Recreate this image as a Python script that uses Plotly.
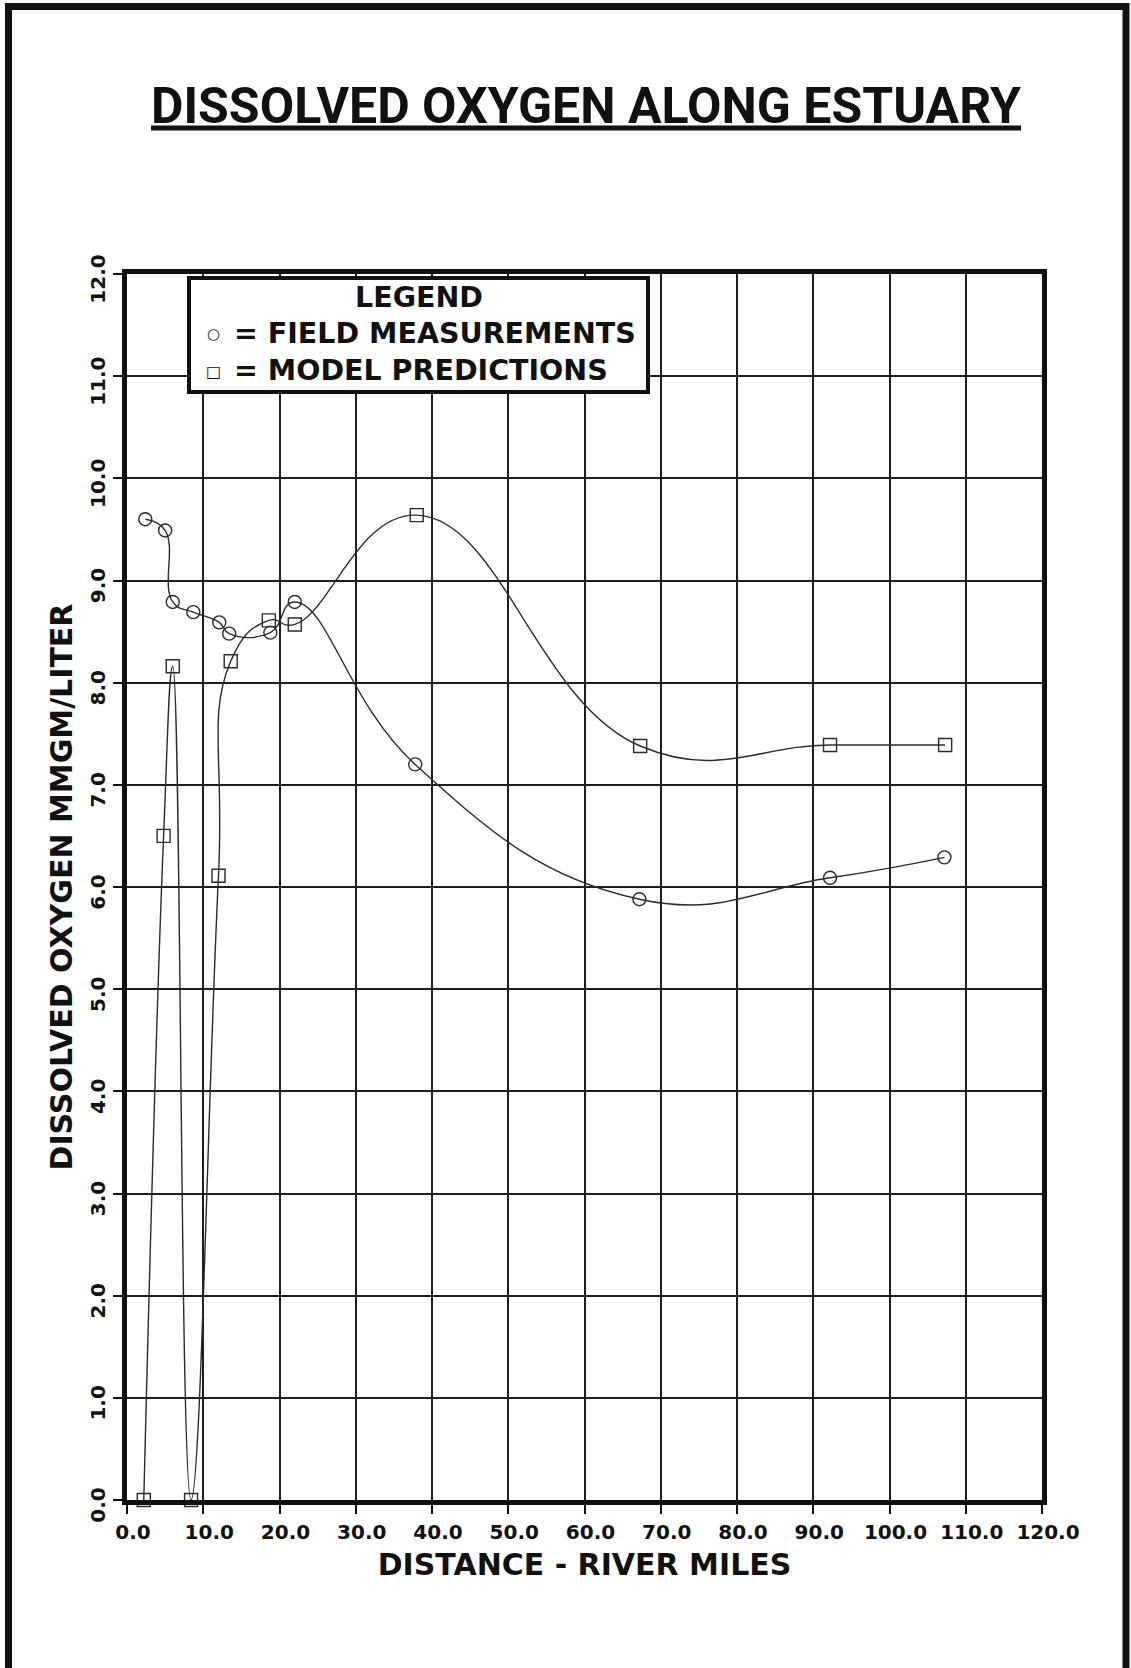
import plotly.graph_objects as go

# River-mile stations and dissolved oxygen (mg/l)
field_miles = [2.4, 5.0, 6.0, 8.7, 12.1, 13.4, 18.8, 22.0, 37.8, 67.2, 92.2, 107.2]
field_do = [9.60, 9.49, 8.79, 8.69, 8.59, 8.48, 8.49, 8.79, 7.20, 5.88, 6.09, 6.29]

model_miles = [2.2, 4.8, 6.0, 8.4, 12.0, 13.6, 18.6, 22.0, 38.0, 67.3, 92.2, 107.3]
model_do = [0.0, 6.50, 8.16, 0.0, 6.11, 8.21, 8.61, 8.57, 9.64, 7.38, 7.39, 7.39]

x_ticks = [0, 10, 20, 30, 40, 50, 60, 70, 80, 90, 100, 110, 120]
y_ticks = [0, 1, 2, 3, 4, 5, 6, 7, 8, 9, 10, 11, 12]

field_name = "FIELD MEASUREMENTS"
model_name = "MODEL PREDICTIONS"

W, H = 1131, 1668
L, R, T, B = 127, 89, 274, 168
PW, PH = W - L - R, H - T - B


def px(x):
    return (x - L) / PW


def py(y):
    return (H - B - y) / PH


INK = "#2b2b2b"
BOLD = "DejaVu Sans"

fig = go.Figure()
fig.add_trace(go.Scatter(
    x=field_miles, y=field_do, mode="lines+markers", name=field_name,
    line=dict(color=INK, width=1.4, shape="spline", smoothing=1.3),
    marker=dict(symbol="circle-open", size=13, color=INK, line=dict(width=1.4, color=INK)),
    cliponaxis=False, showlegend=False,
))
fig.add_trace(go.Scatter(
    x=model_miles, y=model_do, mode="lines+markers", name=model_name,
    line=dict(color=INK, width=1.4, shape="spline", smoothing=1.3),
    marker=dict(symbol="square-open", size=13, color=INK, line=dict(width=1.4, color=INK)),
    cliponaxis=False, showlegend=False,
))

axis_common = dict(
    showgrid=True, gridcolor="#1e1e1e", gridwidth=2,
    showline=True, linecolor="#111111", linewidth=5, mirror=True,
    ticks="outside", ticklen=9, tickwidth=2, tickcolor="#111111",
    zeroline=False, tickformat=".1f",
    tickfont=dict(family=BOLD, size=20, color="#111111", weight="bold"),
)

fig.update_xaxes(
    range=[0, 120], tickvals=x_ticks, ticklabelshift=6, ticklabelstandoff=1,
    title=dict(text="DISTANCE - RIVER MILES", standoff=12,
               font=dict(family=BOLD, size=30, color="#111111", weight="bold")),
    **axis_common,
)
fig.update_yaxes(
    range=[0, 12], tickvals=y_ticks, tickangle=-90, ticklabelshift=8, ticklabelstandoff=0,
    title=dict(text="DISSOLVED OXYGEN MMGM/LITER", standoff=6,
               font=dict(family=BOLD, size=30, color="#111111", weight="bold")),
    **axis_common,
)

shapes = [
    # legend frame
    dict(type="rect", xref="paper", yref="paper",
         x0=px(189), x1=px(648), y0=py(392), y1=py(278),
         line=dict(color="#111111", width=4), fillcolor="white", layer="above"),
    # page frame (left, top, right)
    dict(type="path", xref="paper", yref="paper",
         path=f"M {px(8.5)} {py(1700)} L {px(8.5)} {py(6.5)} L {px(1126)} {py(6.5)} L {px(1126)} {py(1700)}",
         line=dict(color="#111111", width=7)),
]

legend_font = dict(family=BOLD, size=28.5, color="#111111", weight="bold")
symbol_font = dict(family="DejaVu Sans", size=15, color="#111111")
annotations = [
    dict(xref="paper", yref="paper", x=px(418.5), y=py(297), text="LEGEND",
         showarrow=False, xanchor="center", yanchor="middle", font=legend_font),
    dict(xref="paper", yref="paper", x=px(232), y=py(352),
         text="= " + field_name + "<br>= " + model_name,
         showarrow=False, xanchor="left", yanchor="middle", align="left", font=legend_font),
    dict(xref="paper", yref="paper", x=px(213), y=py(334), text="○",
         showarrow=False, xanchor="center", yanchor="middle", font=symbol_font),
    dict(xref="paper", yref="paper", x=px(213), y=py(371), text="□",
         showarrow=False, xanchor="center", yanchor="middle",
         font=dict(family="DejaVu Sans", size=16, color="#111111")),
]

fig.update_layout(
    width=W, height=H,
    margin=dict(l=L, r=R, t=T, b=B, autoexpand=False),
    paper_bgcolor="white", plot_bgcolor="white",
    title=dict(text="<u>DISSOLVED OXYGEN ALONG ESTUARY</u>",
               x=586 / W, xanchor="center", xref="container",
               y=1 - 105 / H, yanchor="middle", yref="container",
               font=dict(family="Roboto", size=50, color="#111111", weight="bold")),
    shapes=shapes, annotations=annotations,
    showlegend=False,
)

fig.write_html("out.html")
